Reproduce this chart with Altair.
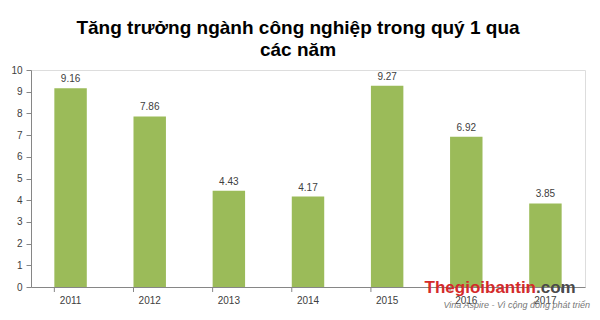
import altair as alt
import pandas as pd

years = ["2011", "2012", "2013", "2014", "2015", "2016", "2017"]
values = [9.16, 7.86, 4.43, 4.17, 9.27, 6.92, 3.85]
labels = ["9.16", "7.86", "4.43", "4.17", "9.27", "6.92", "3.85"]
y_ticks = [0, 1, 2, 3, 4, 5, 6, 7, 8, 9, 10]

df = pd.DataFrame({"year": years, "value": values, "label": labels})

font = "Liberation Sans"

xscale = alt.Scale(paddingInner=0.59, paddingOuter=0.295)
yscale = alt.Scale(domain=[0, 10], nice=False)

xaxis = alt.Axis(title=None, labelAngle=0, ticks=False, domainColor="#868686",
                 labelColor="#404040", labelFont=font, labelFontSize=10, labelPadding=8)
yaxis = alt.Axis(title=None, values=y_ticks, labelOverlap=False, grid=False,
                 domainColor="#868686", tickColor="#868686", tickSize=5,
                 labelColor="#404040", labelFont=font, labelFontSize=10, labelPadding=4)

base = alt.Chart(df).encode(
    x=alt.X("year:N", scale=xscale, sort=years, axis=xaxis),
    y=alt.Y("value:Q", scale=yscale, axis=yaxis),
)

bars = base.mark_bar(color="#9BBB59")

text = base.mark_text(dy=-9, font=font, fontSize=10, color="#404040").encode(
    text="label:N",
)

ticks = alt.Chart(df).mark_rule(color="#868686").encode(
    x=alt.X("year:N", scale=xscale, sort=years, bandPosition=0, axis=xaxis),
    y=alt.value(217),
    y2=alt.value(222),
)
last_tick = alt.Chart(df).transform_filter(alt.datum.year == years[-1]).mark_rule(color="#868686").encode(
    x=alt.X("year:N", scale=xscale, sort=years, bandPosition=1, axis=xaxis),
    y=alt.value(217),
    y2=alt.value(222),
)

wm_df = pd.DataFrame({"t": ["x"]})
wm1 = alt.Chart(wm_df).mark_text(text="Thegioibantin", font=font, fontSize=17, fontWeight="bold",
                                 color="#D42A2A", align="right", baseline="alphabetic").encode(
    x=alt.value(505), y=alt.value(223))
wm2 = alt.Chart(wm_df).mark_text(text=".com", font=font, fontSize=17, fontWeight="bold",
                                 color="#4A4A4A", align="left", baseline="alphabetic").encode(
    x=alt.value(505), y=alt.value(223))
wm3 = alt.Chart(wm_df).mark_text(text="Vina Aspire - Vì cộng đồng phát triển", font=font, fontSize=9,
                                 fontStyle="italic", color="#777777", align="right",
                                 baseline="alphabetic").encode(
    x=alt.value(559), y=alt.value(238))

chart = alt.layer(bars, ticks, last_tick, text, wm1, wm2, wm3).properties(
    width=554,
    height=217,
    autosize=alt.AutoSizeParams(type="none"),
    padding={"left": 31, "top": 70, "right": 15, "bottom": 33},
    title=alt.TitleParams(
        text=["Tăng trưởng ngành công nghiệp trong quý 1 qua", "các năm"],
        font=font, fontSize=19, fontWeight="bold", color="#000000",
        anchor="middle", dx=-10, offset=5, lineHeight=22,
    ),
).configure_view(stroke=None).configure(background="white")

chart.save("out.html", embed_options={"renderer": "svg", "actions": False})
